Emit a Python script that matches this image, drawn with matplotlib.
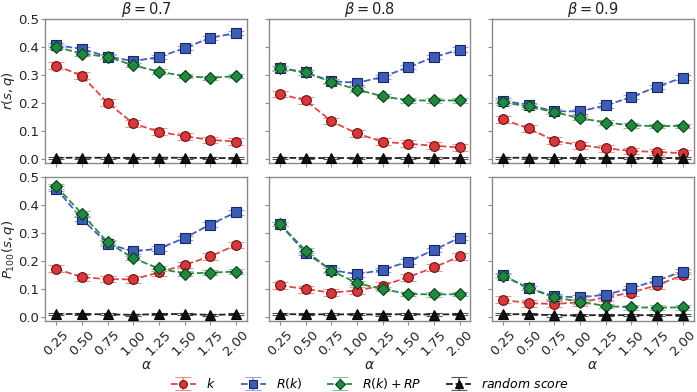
import numpy as np
import matplotlib
matplotlib.use("Agg")
import matplotlib.pyplot as plt

alpha_vals = [0.25, 0.50, 0.75, 1.00, 1.25, 1.50, 1.75, 2.00]
xtick_labels = ["0.25", "0.50", "0.75", "1.00", "1.25", "1.50", "1.75", "2.00"]
betas = ["0.7", "0.8", "0.9"]
series_names = ["$k$", "$R(k)$", "$R(k)+RP$", "$random\\ score$"]

# r(s,q) rows, per beta
r_k = [[0.333, 0.296, 0.200, 0.126, 0.096, 0.080, 0.067, 0.061],
       [0.231, 0.208, 0.134, 0.090, 0.060, 0.053, 0.046, 0.040],
       [0.140, 0.108, 0.064, 0.048, 0.037, 0.027, 0.024, 0.019]]
r_R = [[0.406, 0.392, 0.365, 0.349, 0.363, 0.395, 0.432, 0.449],
       [0.325, 0.308, 0.277, 0.271, 0.292, 0.327, 0.363, 0.390],
       [0.207, 0.192, 0.169, 0.169, 0.190, 0.220, 0.257, 0.290]]
r_RP = [[0.400, 0.375, 0.364, 0.334, 0.311, 0.295, 0.289, 0.295],
        [0.323, 0.308, 0.275, 0.247, 0.223, 0.208, 0.208, 0.208],
        [0.201, 0.187, 0.166, 0.145, 0.129, 0.119, 0.116, 0.117]]
r_rand = [[0.003, 0.003, 0.003, 0.002, 0.003, 0.003, 0.002, 0.002],
          [0.003, 0.002, 0.002, 0.002, 0.002, 0.002, 0.002, 0.002],
          [0.003, 0.003, 0.002, 0.002, 0.002, 0.002, 0.002, 0.002]]

# P_100(s,q) rows, per beta
p_k = [[0.171, 0.141, 0.134, 0.133, 0.158, 0.185, 0.215, 0.256],
       [0.112, 0.098, 0.086, 0.093, 0.111, 0.141, 0.176, 0.215],
       [0.060, 0.048, 0.045, 0.051, 0.068, 0.086, 0.112, 0.148]]
p_R = [[0.458, 0.349, 0.261, 0.233, 0.243, 0.281, 0.329, 0.373],
       [0.331, 0.227, 0.167, 0.151, 0.167, 0.197, 0.238, 0.282],
       [0.147, 0.102, 0.072, 0.069, 0.078, 0.102, 0.129, 0.161]]
p_RP = [[0.466, 0.368, 0.266, 0.209, 0.172, 0.154, 0.157, 0.161],
        [0.331, 0.236, 0.164, 0.120, 0.098, 0.081, 0.079, 0.080],
        [0.146, 0.102, 0.069, 0.053, 0.038, 0.033, 0.032, 0.033]]
p_rand = [[0.009, 0.009, 0.008, 0.006, 0.009, 0.009, 0.006, 0.008],
          [0.009, 0.008, 0.008, 0.008, 0.007, 0.009, 0.007, 0.009],
          [0.008, 0.009, 0.004, 0.005, 0.005, 0.005, 0.005, 0.005]]

err_k = 0.012
err_R = 0.008
err_RP = 0.008
err_rand = 0.004

styles = [
    dict(marker="o", mfc="#d8383a", mec="#6a1010", color="#e04848", ecolor="#f09090"),
    dict(marker="s", mfc="#3c5cb8", mec="#1a2660", color="#4a5cc0", ecolor="#98a4dc"),
    dict(marker="D", mfc="#1f8a3e", mec="#0d3a1a", color="#2a8a42", ecolor="#8cc49c"),
    dict(marker="^", mfc="#111111", mec="#000000", color="#222222", ecolor="#555555"),
]
errs = [err_k, err_R, err_RP, err_rand]
msizes = [7, 7, 6.5, 7]

fig = plt.figure(figsize=(6.97, 3.92), dpi=100)
lefts = [0.065, 0.386, 0.706]
width = 0.289
bottoms = [0.584, 0.181]
height = 0.368

rows = [[r_k, r_R, r_RP, r_rand], [p_k, p_R, p_RP, p_rand]]
ylabels = ["$r(s,q)$", "$P_{100}(s,q)$"]
handles = None
for ri in range(2):
    for ci in range(3):
        ax = fig.add_axes([lefts[ci], bottoms[ri], width, height])
        hs = []
        for si in range(4):
            st = styles[si]
            h = ax.errorbar(alpha_vals, rows[ri][si][ci], yerr=errs[si],
                            linestyle="--", linewidth=1.3, color=st["color"],
                            marker=st["marker"], markersize=msizes[si],
                            markerfacecolor=st["mfc"], markeredgecolor=st["mec"],
                            markeredgewidth=0.8, ecolor=st["ecolor"],
                            elinewidth=1.2, capsize=6, capthick=1.2,
                            label=series_names[si], zorder=3 + si)
            hs.append(h)
        if handles is None:
            handles = hs
        ax.set_xlim(0.144, 2.106)
        ax.set_ylim(-0.016, 0.5)
        ax.set_xticks(alpha_vals)
        ax.set_yticks([0.0, 0.1, 0.2, 0.3, 0.4, 0.5])
        for sp in ax.spines.values():
            sp.set_color("#8a8a8a")
            sp.set_linewidth(1.0)
        ax.tick_params(colors="#8a8a8a", labelcolor="#222222", labelsize=9.5, length=3)
        ax.tick_params(axis="y", pad=1.5)
        ax.tick_params(axis="x", pad=2)
        if ci == 0:
            ax.set_yticklabels(["0.0", "0.1", "0.2", "0.3", "0.4", "0.5"])
            ax.set_ylabel(ylabels[ri], fontsize=9.5, color="#222222", labelpad=1)
        else:
            ax.set_yticklabels([])
        if ri == 1:
            ax.set_xticklabels(xtick_labels, rotation=45, ha="center", rotation_mode="default")
            ax.set_xlabel("$\\alpha$", fontsize=10, color="#222222", labelpad=0)
        else:
            ax.set_xticklabels([])
            ax.set_title("$\\beta = %s$" % betas[ci], fontsize=10.5, color="#222222", pad=2)

fig.legend(handles, series_names, loc="center", bbox_to_anchor=(0.531, 0.022),
           ncol=4, frameon=False, fontsize=9, handlelength=2.0, columnspacing=2.0,
           handletextpad=0.8, borderpad=0.1, markerscale=0.8)

fig.savefig("out.png", dpi=100)
